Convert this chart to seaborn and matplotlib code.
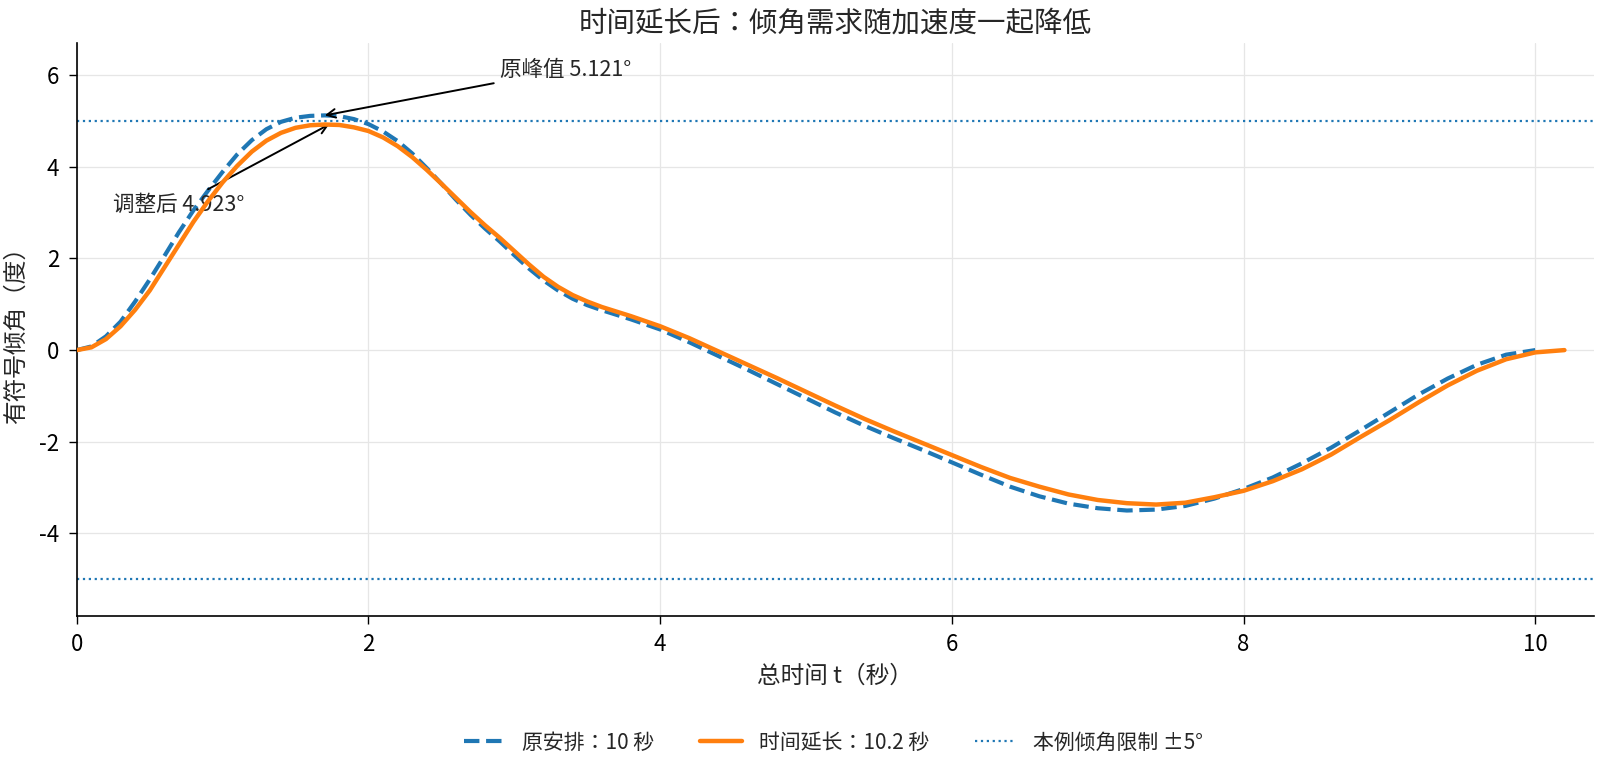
import matplotlib
matplotlib.use("Agg")
import matplotlib.pyplot as plt
import seaborn as sns
import pandas as pd

# ---- data ----
t_orig = [0.0, 0.1, 0.2, 0.3, 0.4, 0.5, 0.6, 0.7, 0.8, 0.9, 1.0, 1.1, 1.2, 1.3, 1.4,
          1.5, 1.6, 1.7, 1.8, 1.9, 2.0, 2.1, 2.2, 2.3, 2.4, 2.5, 2.6, 2.7, 2.8, 2.9,
          3.0, 3.1, 3.2, 3.3, 3.4, 3.5, 3.6, 3.7, 3.8, 3.9, 4.0, 4.2, 4.4, 4.6, 4.8,
          5.0, 5.2, 5.4, 5.6, 5.8, 6.0, 6.2, 6.4, 6.6, 6.8, 7.0, 7.2, 7.4, 7.6, 7.8,
          8.0, 8.2, 8.4, 8.6, 8.8, 9.0, 9.2, 9.4, 9.6, 9.8, 10.0]
tilt_orig = [0.00, 0.08, 0.30, 0.62, 1.06, 1.54, 2.05, 2.57, 3.05, 3.48, 3.89, 4.27, 4.58, 4.82, 4.98,
             5.07, 5.110, 5.121, 5.105, 5.04, 4.93, 4.77, 4.56, 4.29, 3.97, 3.63, 3.28, 2.95, 2.65, 2.37,
             2.07, 1.78, 1.52, 1.30, 1.12, 0.98, 0.87, 0.77, 0.67, 0.56, 0.45, 0.17, -0.13, -0.43, -0.74,
             -1.05, -1.36, -1.65, -1.92, -2.18, -2.45, -2.72, -2.98, -3.19, -3.35, -3.45, -3.50, -3.48, -3.40, -3.24,
             -3.03, -2.78, -2.47, -2.13, -1.75, -1.36, -0.97, -0.62, -0.32, -0.10, 0.00]

t_ext = [0.0, 0.1, 0.2, 0.3, 0.4, 0.5, 0.6, 0.7, 0.8, 0.9, 1.0, 1.1, 1.2, 1.3, 1.4,
         1.5, 1.6, 1.7, 1.8, 1.9, 2.0, 2.1, 2.2, 2.3, 2.4, 2.5, 2.6, 2.7, 2.8, 2.9,
         3.0, 3.1, 3.2, 3.3, 3.4, 3.5, 3.6, 3.7, 3.8, 3.9, 4.0, 4.2, 4.4, 4.6, 4.8,
         5.0, 5.2, 5.4, 5.6, 5.8, 6.0, 6.2, 6.4, 6.6, 6.8, 7.0, 7.2, 7.4, 7.6, 7.8,
         8.0, 8.2, 8.4, 8.6, 8.8, 9.0, 9.2, 9.4, 9.6, 9.8, 10.0, 10.2]
tilt_ext = [0.00, 0.06, 0.24, 0.52, 0.88, 1.30, 1.80, 2.30, 2.80, 3.25, 3.66, 4.02, 4.33, 4.57, 4.74,
            4.85, 4.905, 4.922, 4.912, 4.86, 4.78, 4.64, 4.45, 4.21, 3.93, 3.63, 3.32, 3.01, 2.72, 2.45,
            2.16, 1.87, 1.60, 1.38, 1.20, 1.06, 0.94, 0.84, 0.74, 0.63, 0.52, 0.26, -0.03, -0.32, -0.61,
            -0.91, -1.21, -1.50, -1.77, -2.03, -2.29, -2.55, -2.79, -2.98, -3.15, -3.27, -3.34, -3.37, -3.33, -3.21,
            -3.07, -2.86, -2.60, -2.28, -1.90, -1.53, -1.14, -0.77, -0.45, -0.20, -0.05, 0.00]

tilt_limit = 5.0
peak_orig = (1.70, 5.121)
peak_ext = (1.73, 4.923)

label_orig = "原安排：10 秒"
label_ext = "时间延长：10.2 秒"
label_limit = "本例倾角限制 ±5°"

# ---- style ----
sns.set_style("ticks")
plt.rcParams['font.family'] = ['Noto Sans CJK JP', 'DejaVu Sans']
plt.rcParams['axes.unicode_minus'] = False

fig = plt.figure(figsize=(16, 7.68), dpi=100)
ax = fig.add_axes([0.048, 0.198, 0.948, 0.746])

df_o = pd.DataFrame({"t": t_orig, "tilt": tilt_orig})
df_e = pd.DataFrame({"t": t_ext, "tilt": tilt_ext})

sns.lineplot(data=df_o, x="t", y="tilt", ax=ax, color="#1f77b4", linewidth=3,
             linestyle="--", label=label_orig, zorder=3)
sns.lineplot(data=df_e, x="t", y="tilt", ax=ax, color="#ff7f0e", linewidth=3.2,
             label=label_ext, zorder=4)
ax.axhline(tilt_limit, color="#1f77b4", linestyle=":", linewidth=1.6, label=label_limit, zorder=2)
ax.axhline(-tilt_limit, color="#1f77b4", linestyle=":", linewidth=1.6, zorder=2)

ax.set_xlim(0, 10.4)
ax.set_ylim(-5.8, 6.7)
ax.set_xticks([0, 2, 4, 6, 8, 10])
ax.set_yticks([-4, -2, 0, 2, 4, 6])
ax.grid(True, color="#e6e6e6", linewidth=0.9)
ax.set_axisbelow(True)
for s in ["top", "right"]:
    ax.spines[s].set_visible(False)
for s in ["left", "bottom"]:
    ax.spines[s].set_color("black")
    ax.spines[s].set_linewidth(1.2)
ax.tick_params(axis="both", labelsize=16, colors="black", length=5.5, width=1.0, pad=7)

ax.set_title("时间延长后：倾角需求随加速度一起降低", fontsize=20.5, pad=8)
ax.set_xlabel("总时间 t（秒）", fontsize=17, labelpad=6)
ax.set_ylabel("有符号倾角（度）", fontsize=17, labelpad=8)

ax.annotate(f"原峰值 {peak_orig[1]:.3f}°", xy=peak_orig, xytext=(2.9, 6.12),
            fontsize=15.5, va="center", ha="left",
            arrowprops=dict(arrowstyle="->", color="black", lw=1.4, shrinkA=2, shrinkB=0))
ax.annotate(f"调整后 {peak_ext[1]:.3f}°", xy=peak_ext, xytext=(0.25, 3.17),
            fontsize=15.5, va="center", ha="left",
            arrowprops=dict(arrowstyle="->", color="black", lw=1.4, shrinkA=2, shrinkB=0))

if ax.legend_:
    ax.legend_.remove()
handles, labels = ax.get_legend_handles_labels()
fig.legend(handles, labels, loc="center", bbox_to_anchor=(0.521, 0.033), ncol=3,
           frameon=False, fontsize=15, handlelength=2.0, handletextpad=0.8, columnspacing=2.2)

fig.savefig("out.png", dpi=100)
